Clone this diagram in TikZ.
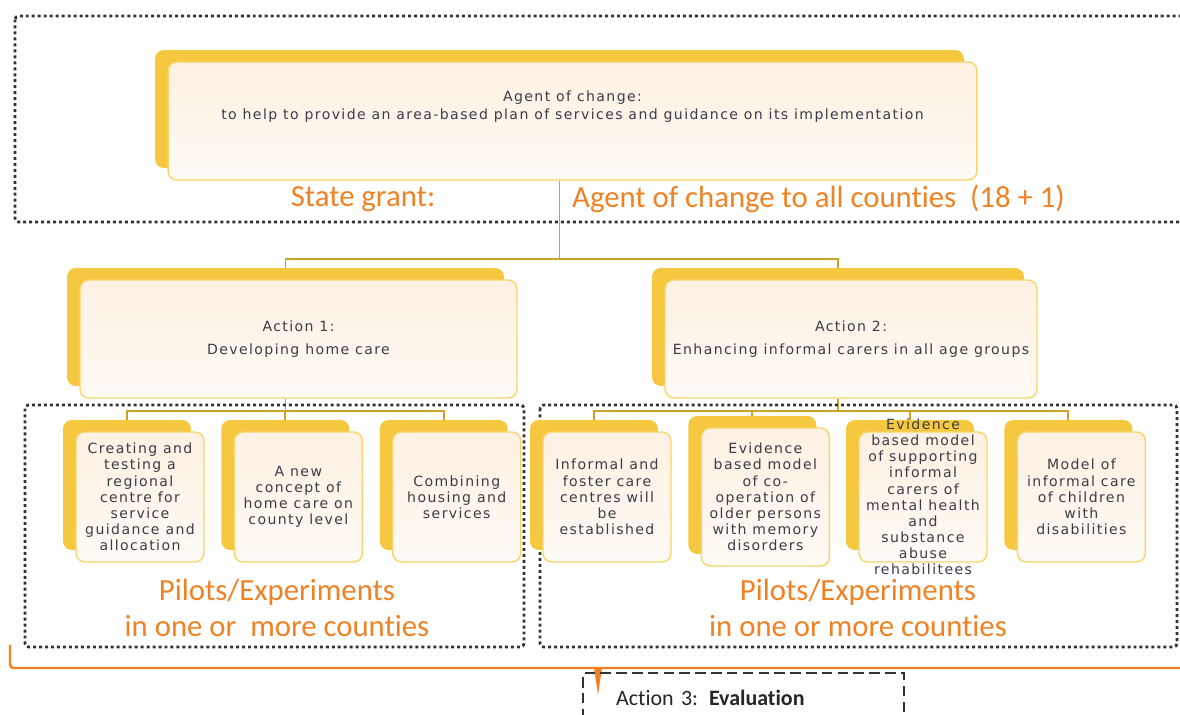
\documentclass[tikz,border=0pt]{standalone}
\usepackage{fontspec}
\newfontfamily\calfont[Ligatures=NoCommon]{Carlito}
\newfontfamily\boxfont[LetterSpace=10]{DejaVu Sans}
\usetikzlibrary{shadows,backgrounds,calc,positioning}
\definecolor{goldback}{RGB}{246,200,64}
\definecolor{goldline}{RGB}{205,162,38}
\definecolor{creamfill}{RGB}{253,241,226}
\definecolor{creamedge}{RGB}{248,212,105}
\definecolor{orangetxt}{RGB}{240,130,36}
\definecolor{frameline}{RGB}{50,50,50}
\definecolor{boxtxt}{RGB}{60,60,72}

\begin{document}
\begin{tikzpicture}[
    x=0.02cm,y=-0.02cm,
    card/.style={rectangle,rounded corners=5pt,draw=creamedge,thick,
      top color=creamfill,bottom color=creamfill!35,
      copy shadow={shadow xshift=-0.26cm,shadow yshift=0.24cm,fill=goldback,draw=none}},
    actionbox/.style={card,minimum width=#1,minimum height=2.36cm},
    pilotbox/.style={card,minimum width=2.56cm,minimum height=2.6cm},
    txt/.style={align=center,text=boxtxt,font=\boxfont\fontsize{8}{9.2}\selectfont},
    orangelbl/.style={text=orangetxt,font=\calfont\fontsize{17.5}{20}\selectfont},
    conn/.style={draw=goldline,line width=1.1pt},
    dotframe/.style={draw=frameline,line width=1.6pt,dash pattern=on 1.7pt off 1.7pt,rounded corners=2pt}]

  \useasboundingbox (0,0) rectangle (1180,715);

  % top level
  \draw[dotframe] (15,16) rectangle (1200,222);
  \node[actionbox=16.18cm,label={[txt,yshift=0.28cm,font=\boxfont\fontsize{8}{10.2}\selectfont]center:{Agent of change:\\to help to provide an area-based plan of services and guidance on its implementation}}] (top) at (572.5,121) {};
  \node[orangelbl] (grant) at (363,199) {State grant:};
  \node[orangelbl,anchor=west] (allcounties) at (566,199) {Agent of change to all counties\ \ (18 + 1)};

  % actions
  \node[actionbox=8.74cm,label={[txt]center:{Action 1:\\[4pt]Developing home care}}] (act1) at (298.5,339) {};
  \node[actionbox=7.44cm,label={[txt]center:{Action 2:\\[4pt]Enhancing informal carers in all age groups}}] (act2) at (851,339) {};

  % pilots of action 1
  \draw[dotframe] (25,405) rectangle (524,647);
  \node[pilotbox,label={[txt]center:{Creating and\\testing a\\regional\\centre for\\service\\guidance and\\allocation}}] (c1) at (140,497) {};
  \node[pilotbox,label={[txt]center:{A new\\concept of\\home care on\\county level}}] (c2) [right=0.58cm of c1] {};
  \node[pilotbox,label={[txt]center:{Combining\\housing and\\services}}] (c3) [right=0.58cm of c2] {};
  \node[orangelbl,align=center] (pilots1) at (277,608) {Pilots/Experiments\\in one or\ \ more counties};

  % pilots of action 2
  \draw[dotframe] (540,405) rectangle (1177,647);
  \node[pilotbox,label={[txt]center:{Informal and\\foster care\\centres will\\be\\established}}] (d1) at (607,497) {};
  \node[pilotbox,minimum height=2.76cm,label={[txt]center:{Evidence\\based model\\of co-\\operation of\\older persons\\with memory\\disorders}}] (d2) [right=0.58cm of d1] {};
  \node[pilotbox,label={[txt]center:{Evidence\\based model\\of supporting\\informal\\carers of\\mental health\\and\\substance\\abuse\\rehabilitees}}] (d3) at (923,497) {};
  \node[pilotbox,label={[txt]center:{Model of\\informal care\\of children\\with\\disabilities}}] (d4) [right=0.58cm of d3] {};
  \node[orangelbl,align=center] (pilots2) at (858,608) {Pilots/Experiments\\in one or more counties};

  % connectors
  \begin{scope}[on background layer]
    \draw[conn] ([xshift=-0.26cm]top.south) -- ++(0,78) -| ([xshift=-0.26cm]act1.north);
    \draw[conn] ([xshift=-0.26cm]top.south) -- ++(0,78) -| ([xshift=-0.26cm]act2.north);
    \foreach \n in {c1,c2,c3}
      \draw[conn] ([xshift=-0.26cm]act1.south) -- ++(0,12) -| ([xshift=-0.26cm]\n.north);
    \foreach \n in {d1,d2,d3,d4}
      \draw[conn] ([xshift=-0.26cm]act2.south) -- ++(0,12) -| ([xshift=-0.26cm]\n.north);
  \end{scope}

  % evaluation
  \draw[draw=orangetxt,line width=1.4pt,rounded corners=2pt] (10,645) -- (10,668) -- (1200,668);
  \fill[orangetxt] (594,668) -- (602,668) -- (598,695) -- cycle;
  \node[draw=frameline,line width=1.4pt,dash pattern=on 6pt off 3pt,anchor=north west,
    minimum width=6.42cm,minimum height=1cm,inner xsep=0.66cm,text width=5.1cm,align=left,
    text=black!85,font=\calfont\fontsize{12.5}{14}\selectfont] (act3) at (582,672) {Action 3: \textbf{Evaluation}};
\end{tikzpicture}
\end{document}
